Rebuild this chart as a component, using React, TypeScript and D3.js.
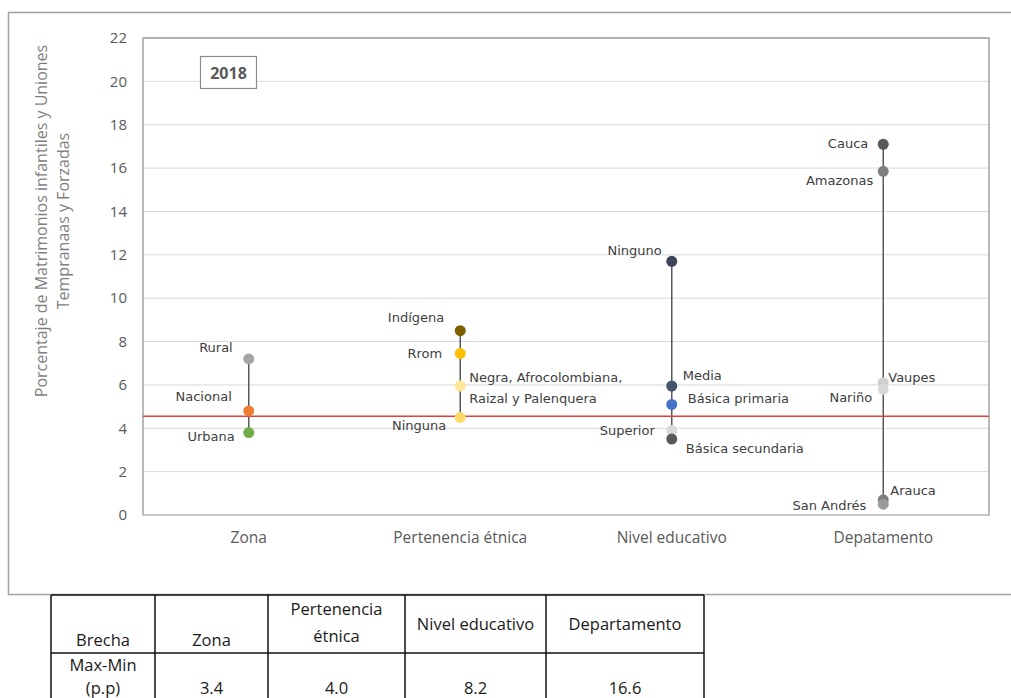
import React from "react";
import * as d3 from "d3";

// ---------- DATA ----------
const categories = ["Zona", "Pertenencia étnica", "Nivel educativo", "Depatamento"];

const zonaLabels = ["Rural", "Nacional", "Urbana"];
const zonaValues = [7.2, 4.8, 3.8];

const etnicaLabels = ["Indígena", "Rrom", "Negra, Afrocolombiana, Raizal y Palenquera", "Ninguna"];
const etnicaValues = [8.5, 7.45, 5.95, 4.5];

const educLabels = ["Ninguno", "Media", "Básica primaria", "Superior", "Básica secundaria"];
const educValues = [11.7, 5.95, 5.1, 3.9, 3.5];

const deptoLabels = ["Cauca", "Amazonas", "Vaupes", "Nariño", "Arauca", "San Andrés"];
const deptoValues = [17.1, 15.85, 6.1, 5.8, 0.7, 0.5];

const referenceValue = 4.55;
const yTicks = [0, 2, 4, 6, 8, 10, 12, 14, 16, 18, 20, 22];
const yearLabel = "2018";
const yTitleLines = ["Porcentaje de Matrimonios infantiles y Uniones", "Tempranaas y Forzadas"];

const tableHeader = ["Brecha", "Zona", "Pertenencia étnica", "Nivel educativo", "Departamento"];
const tableRowLabel = "Max-Min (p.p)";
const tableValues = ["3.4", "4.0", "8.2", "16.6"];

// ---------- STYLE / LAYOUT ----------
const dotColors: Record<string, string> = {
  Rural: "#a5a5a5",
  Nacional: "#ed7d31",
  Urbana: "#70ad47",
  "Indígena": "#7f6000",
  Rrom: "#ffc000",
  "Negra, Afrocolombiana, Raizal y Palenquera": "#ffe699",
  Ninguna: "#ffd966",
  Ninguno: "#3d4457",
  Media: "#44546a",
  "Básica primaria": "#4472c4",
  Superior: "#d9d9d9",
  "Básica secundaria": "#595959",
  Cauca: "#595959",
  Amazonas: "#808080",
  Vaupes: "#d0d0d0",
  "Nariño": "#d9d9d9",
  Arauca: "#7f7f7f",
  "San Andrés": "#9a9a9a",
};

// label offsets relative to the dot: [dx, dy, anchor]
const labelLayout: Record<string, [number, number, string]> = {
  Rural: [-16, -11, "end"],
  Nacional: [-17, -14, "end"],
  Urbana: [-14, 4, "end"],
  "Indígena": [-16, -13, "end"],
  Rrom: [-18, 0, "end"],
  "Negra, Afrocolombiana, Raizal y Palenquera": [9, -9, "start"],
  Ninguna: [-14, 8, "end"],
  Ninguno: [-10, -11, "end"],
  Media: [11, -11, "start"],
  "Básica primaria": [16, -6, "start"],
  Superior: [-17, 0, "end"],
  "Básica secundaria": [14, 9, "start"],
  Cauca: [-15, -1, "end"],
  Amazonas: [-10, 9, "end"],
  Vaupes: [5, -5, "start"],
  "Nariño": [-11, 8, "end"],
  Arauca: [7, -9, "start"],
  "San Andrés": [-17, 1, "end"],
};
const multiLine: Record<string, string[]> = {
  "Negra, Afrocolombiana, Raizal y Palenquera": ["Negra, Afrocolombiana,", "Raizal y Palenquera"],
};

const FONT = "'Open Sans', 'DejaVu Sans', sans-serif";
const WIDE = "'DejaVu Sans', 'Open Sans', sans-serif";

export default function App() {
  const plot = { left: 143, right: 989, top: 38, bottom: 515 };
  const x = d3.scaleBand<string>().domain(categories).range([plot.left, plot.right]);
  const y = d3.scaleLinear().domain([0, 22]).range([plot.bottom, plot.top]);

  const groups = [
    { labels: zonaLabels, values: zonaValues },
    { labels: etnicaLabels, values: etnicaValues },
    { labels: educLabels, values: educValues },
    { labels: deptoLabels, values: deptoValues },
  ];

  // table layout
  const colX = [51, 155, 268, 405, 546, 704];
  const rowY = [595, 653, 700];

  return (
    <div style={{ position: "absolute", left: 0, top: 0 }}>
      <svg width={1011} height={698} style={{ display: "block", background: "#fff" }}>
        {/* outer chart box */}
        <rect x={8.5} y={12.5} width={1020} height={582} fill="none" stroke="#a0a0a0" strokeWidth={1.5} />

        {/* gridlines */}
        {yTicks.map((t) => (
          <line key={"g" + t} x1={plot.left} x2={plot.right} y1={y(t)} y2={y(t)} stroke="#d9d9d9" strokeWidth={1} />
        ))}
        {/* plot area border */}
        <rect x={plot.left} y={plot.top} width={plot.right - plot.left} height={plot.bottom - plot.top} fill="none" stroke="#8c8c8c" strokeWidth={1.2} />
        <line x1={plot.left} x2={plot.right} y1={plot.bottom} y2={plot.bottom} stroke="#d9d9d9" strokeWidth={1.2} />

        {/* y tick labels */}
        {yTicks.map((t) => (
          <text key={"t" + t} x={127} y={y(t)} dy="0.35em" textAnchor="end" fontFamily={FONT} fontSize={15} fill="#595959">
            {t}
          </text>
        ))}

        {/* y title */}
        {yTitleLines.map((line, i) => (
          <text key={"yt" + i} transform={`translate(${41 + i * 22},221) rotate(-90)`} textAnchor="middle" dy="0.35em" fontFamily={FONT} fontSize={16} fill="#7f7f7f">
            {line}
          </text>
        ))}

        {/* category labels */}
        {categories.map((c) => (
          <text key={"c" + c} x={(x(c) as number) + x.bandwidth() / 2} y={538} dy="0.35em" textAnchor="middle" fontFamily={FONT} fontSize={15.5} fill="#595959">
            {c}
          </text>
        ))}

        {/* year box */}
        <rect x={200.5} y={56.5} width={56} height={32} fill="#fff" stroke="#8c8c8c" strokeWidth={1.2} />
        <text x={228.5} y={73} dy="0.35em" textAnchor="middle" fontFamily={FONT} fontSize={16} fontWeight="bold" fill="#595959">
          {yearLabel}
        </text>

        {/* range lines */}
        {groups.map((g, i) => {
          const cx = (x(categories[i]) as number) + x.bandwidth() / 2;
          return (
            <line key={"r" + i} x1={cx} x2={cx} y1={y(d3.max(g.values) as number)} y2={y(d3.min(g.values) as number)} stroke="#595959" strokeWidth={1.5} />
          );
        })}

        {/* reference line */}
        <line x1={plot.left} x2={plot.right} y1={y(referenceValue)} y2={y(referenceValue)} stroke="#e0403f" strokeWidth={1.5} />

        {/* dots and labels */}
        {groups.map((g, i) => {
          const cx = (x(categories[i]) as number) + x.bandwidth() / 2;
          return (
            <g key={"p" + i}>
              {g.labels.map((lab, j) => (
                <circle key={lab} cx={cx} cy={y(g.values[j])} r={5.5} fill={dotColors[lab]} />
              ))}
              {g.labels.map((lab, j) => {
                const [dx, dy, anchor] = labelLayout[lab];
                const lines = multiLine[lab] || [lab];
                return (
                  <text key={"l" + lab} x={cx + dx} y={y(g.values[j]) + dy} textAnchor={anchor as any} fontFamily={WIDE} fontSize={13} fill="#404040">
                    {lines.map((ln, k) => (
                      <tspan key={k} x={cx + dx} dy={k === 0 ? "0.35em" : 21}>
                        {ln}
                      </tspan>
                    ))}
                  </text>
                );
              })}
            </g>
          );
        })}

        {/* table */}
        <g fontFamily={FONT} fontSize={16.5} fill="#1a1a1a">
          {rowY.map((ry, i) => (
            <line key={"tr" + i} x1={colX[0]} x2={colX[colX.length - 1]} y1={ry} y2={ry} stroke="#111" strokeWidth={1.5} />
          ))}
          {colX.map((cx, i) => (
            <line key={"tc" + i} x1={cx} x2={cx} y1={rowY[0]} y2={rowY[2]} stroke="#111" strokeWidth={1.5} />
          ))}
          {/* header */}
          {tableHeader.map((h, i) => {
            const mid = (colX[i] + colX[i + 1]) / 2;
            if (h === "Pertenencia étnica") {
              return (
                <text key={"h" + i} x={mid} textAnchor="middle">
                  <tspan x={mid} y={615}>Pertenencia</tspan>
                  <tspan x={mid} y={642}>étnica</tspan>
                </text>
              );
            }
            const ty = i < 2 ? 646 : 630;
            return (
              <text key={"h" + i} x={mid} y={ty} textAnchor="middle">
                {h}
              </text>
            );
          })}
          <text textAnchor="middle">
            <tspan x={(colX[0] + colX[1]) / 2} y={671}>{tableRowLabel.split(" ")[0]}</tspan>
            <tspan x={(colX[0] + colX[1]) / 2} y={694}>{tableRowLabel.split(" ")[1]}</tspan>
          </text>
          {tableValues.map((v, i) => (
            <text key={"v" + i} x={(colX[i + 1] + colX[i + 2]) / 2} y={694} textAnchor="middle">
              {v}
            </text>
          ))}
        </g>
      </svg>
    </div>
  );
}
